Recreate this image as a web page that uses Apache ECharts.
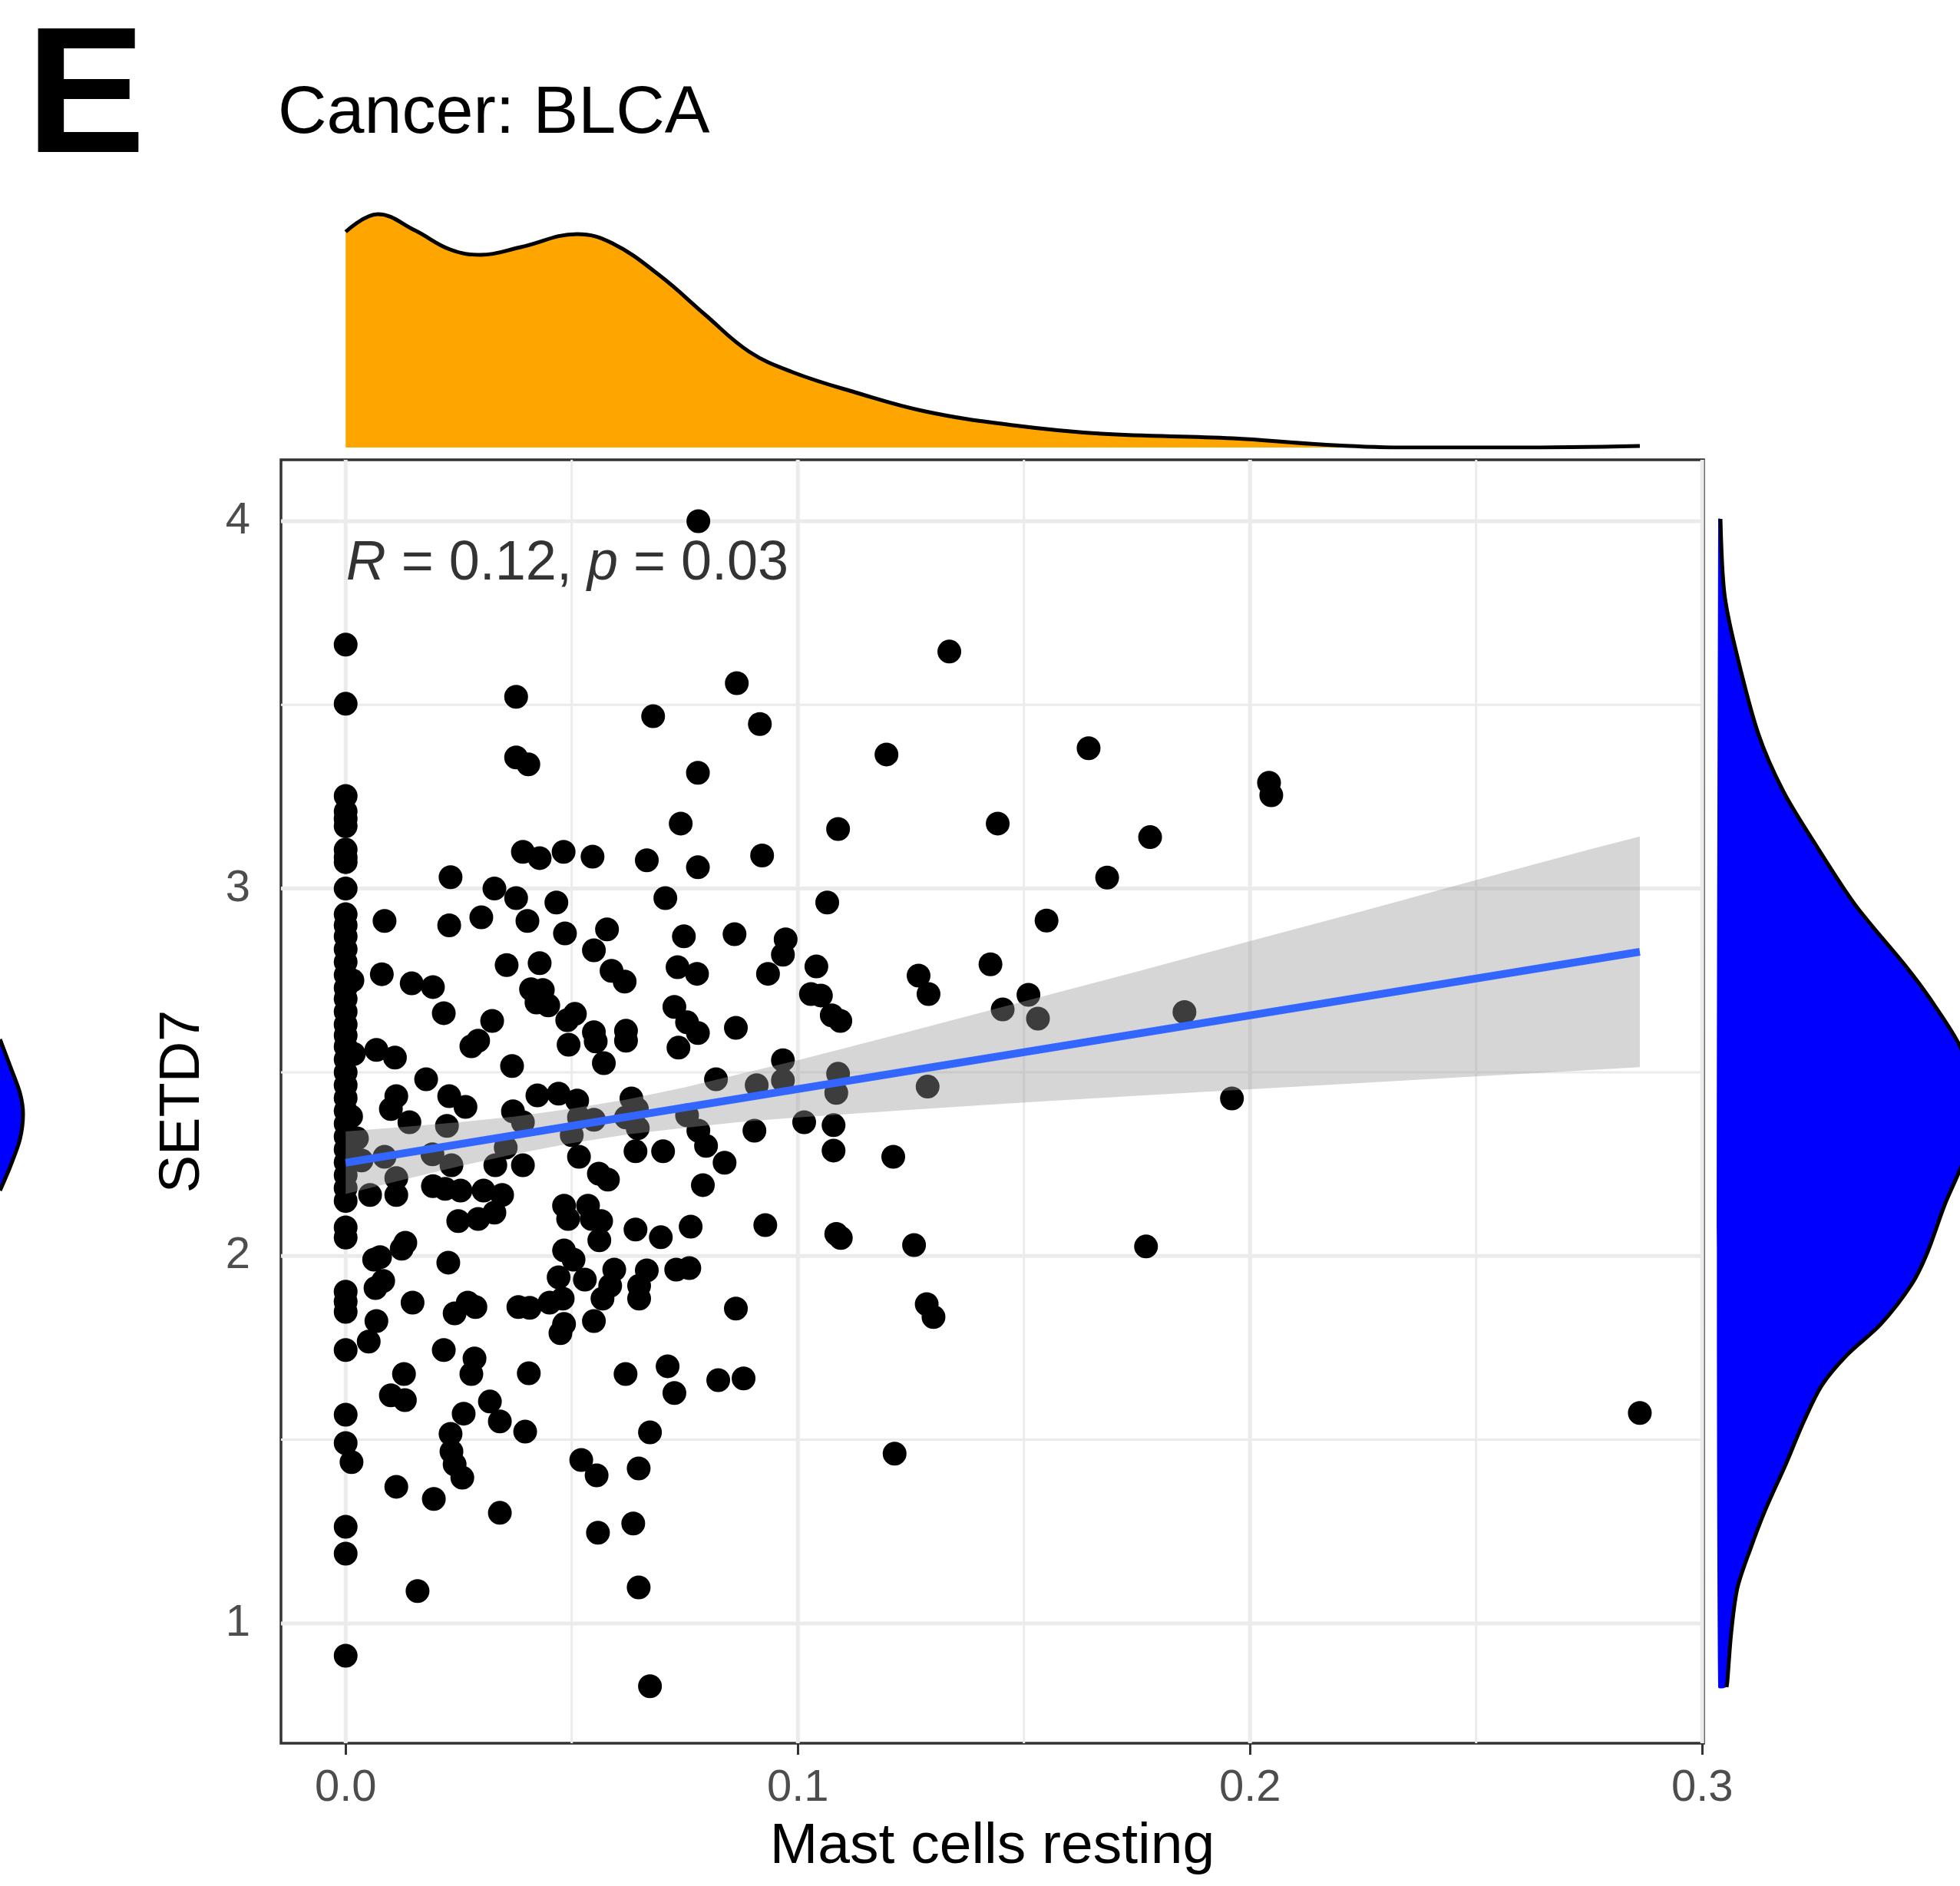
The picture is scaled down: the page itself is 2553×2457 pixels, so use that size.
<!DOCTYPE html>
<html>
<head>
<meta charset="utf-8">
<title>Cancer: BLCA</title>
<script src="https://cdn.jsdelivr.net/npm/echarts@6/dist/echarts.min.js"></script>
<style>
html, body { margin: 0; padding: 0; background: #fff; }
#chart { width: 2553px; height: 2457px; }
</style>
</head>
<body>
<div id="chart"></div>
<script>
// 字体
var FONT = "'Liberation Sans', Arial, sans-serif";

// 坐标刻度
var xTicks = [0, 0.1, 0.2, 0.3];
var xMinor = [0.05, 0.15, 0.25];
var yTicks = [1, 2, 3, 4];
var yMinor = [1.5, 2.5, 3.5];

// 散点: [Mast cells resting, SETD7]
var points = [
  // x = 0 column
  [0,3.664],[0,3.503],[0,3.252],[0,3.21],[0,3.19],[0,3.17],[0,3.106],[0,3.085],[0,3.072],[0,3.0],
  [0,2.93],[0,2.90],[0,2.87],[0,2.835],[0,2.80],[0,2.765],[0,2.73],[0,2.70],[0,2.665],[0,2.63],
  [0,2.60],[0,2.57],[0,2.535],[0,2.50],[0,2.465],[0,2.43],[0,2.395],[0,2.36],[0,2.325],[0,2.29],
  [0,2.255],[0,2.22],[0,2.185],[0,2.15],[0,2.078],[0,2.05],[0,1.903],[0,1.876],[0,1.848],[0,1.744],
  [0,1.568],[0,1.491],[0.0013,1.439],[0,1.263],[0,1.19],[0,0.912],[0.0015,2.75],[0.0018,2.55],[0.0012,2.38],
  [0.0025,2.32],[0.0035,2.26],
  // upper left
  [0.0377,3.522],[0.068,3.469],[0.0377,3.357],[0.0404,3.338],[0.0741,3.177],
  [0.0392,3.10],[0.0429,3.083],[0.0482,3.10],[0.0546,3.087],[0.0666,3.077],
  [0.0232,3.031],[0.0329,3.0],[0.0377,2.974],[0.0466,2.962],[0.0707,2.974],
  [0.0086,2.912],[0.0229,2.9],[0.03,2.922],[0.0402,2.912],[0.0485,2.878],[0.0578,2.889],[0.0549,2.832],[0.0748,2.87],
  [0.008,2.767],[0.0146,2.742],[0.0193,2.732],[0.0217,2.661],[0.0356,2.792],[0.0429,2.797],
  [0.041,2.726],[0.0436,2.724],[0.0422,2.69],[0.0448,2.682],
  [0.0588,2.776],[0.0617,2.747],[0.0734,2.786],[0.0777,2.768],
  [0.0324,2.64],[0.049,2.642],[0.0507,2.659],[0.0727,2.678],[0.0755,2.636],
  [0.0549,2.609],[0.0553,2.584],[0.062,2.613],[0.062,2.586],
  [0.0278,2.571],[0.0293,2.586],[0.0068,2.561],[0.0109,2.54],[0.0368,2.517],[0.0493,2.575],[0.0571,2.525],[0.0736,2.567],[0.0178,2.481],
  // lower left
  [0.0112,2.435],[0.01,2.40],[0.0141,2.364],[0.0229,2.435],[0.0265,2.406],[0.0224,2.354],[0.037,2.394],[0.0392,2.364],
  [0.0424,2.437],[0.0471,2.442],[0.0512,2.423],[0.0516,2.377],[0.05,2.329],[0.0549,2.371],
  [0.0632,2.429],[0.0644,2.40],[0.062,2.377],[0.0646,2.348],[0.0755,2.383],[0.078,2.341],
  [0.0086,2.27],[0.0192,2.277],[0.0234,2.247],[0.0331,2.247],[0.0392,2.247],[0.0354,2.295],[0.0516,2.27],[0.0641,2.285],[0.0702,2.285],
  [0.056,2.224],[0.058,2.208],[0.0112,2.212],[0.0054,2.166],[0.0112,2.166],[0.0193,2.19],[0.022,2.183],[0.0254,2.178],[0.0305,2.178],[0.0346,2.166],
  [0.0329,2.118],[0.0249,2.095],[0.0293,2.101],[0.0483,2.137],[0.0492,2.101],[0.0536,2.137],[0.0544,2.101],[0.0565,2.095],[0.0561,2.043],
  [0.0641,2.072],[0.0697,2.051],[0.0763,2.08],
  [0.0063,1.99],[0.0076,1.997],[0.0132,2.036],[0.0124,2.02],[0.0066,1.913],[0.0083,1.932],[0.0227,1.982],
  [0.0483,2.015],[0.0504,1.99],[0.0471,1.942],[0.0529,1.936],[0.0594,1.963],[0.0585,1.919],[0.0568,1.884],[0.0666,1.961],[0.0649,1.919],[0.0649,1.884],[0.0731,1.963],[0.076,1.967],
  [0.0148,1.873],[0.0241,1.844],[0.027,1.873],[0.0287,1.861],[0.0382,1.861],[0.0407,1.859],[0.0451,1.873],[0.048,1.884],[0.0483,1.815],[0.0475,1.79],[0.0549,1.823],
  [0.0068,1.823],[0.0051,1.767],[0.0217,1.744],[0.0285,1.721],[0.0278,1.679],[0.0129,1.679],[0.0405,1.681],[0.0619,1.679],[0.0712,1.70],[0.0727,1.627],
  [0.01,1.621],[0.0131,1.608],[0.0261,1.571],[0.0319,1.604],[0.0341,1.55],[0.0397,1.522],[0.0232,1.516],[0.0234,1.468],[0.0241,1.433],[0.0258,1.397],[0.0673,1.52],
  [0.0521,1.445],[0.0555,1.403],[0.0648,1.422],[0.0112,1.372],[0.0195,1.339],[0.0341,1.301],[0.0558,1.247],[0.0636,1.272],[0.0159,1.088],[0.0648,1.098],[0.0673,0.829],
  // upper middle
  [0.078,4.0],[0.0865,3.559],[0.0916,3.448],[0.1335,3.645],[0.1196,3.365],[0.1643,3.382],[0.1089,3.162],[0.1442,3.177],[0.1779,3.14],[0.1684,3.03],
  [0.0921,3.09],[0.0779,3.058],[0.0779,3.315],
  [0.1065,2.962],[0.155,2.913],[0.086,2.876],[0.0973,2.862],[0.0967,2.82],
  [0.0934,2.768],[0.1041,2.788],[0.1426,2.794],[0.1267,2.763],[0.1289,2.713],
  [0.1029,2.713],[0.1051,2.709],[0.1075,2.655],[0.1094,2.64],[0.151,2.711],[0.1453,2.671],[0.1531,2.646],[0.1855,2.664],
  [0.0863,2.621],[0.0779,2.607],[0.0967,2.533],[0.0967,2.478],[0.1089,2.496],[0.0819,2.481],[0.0909,2.465],[0.1287,2.461],
  // lower middle
  [0.1085,2.444],[0.0797,2.30],[0.0904,2.341],[0.1014,2.364],[0.1079,2.356],[0.1079,2.287],[0.0838,2.254],[0.1211,2.27],[0.079,2.193],
  [0.0928,2.084],[0.1085,2.06],[0.1095,2.049],[0.1257,2.03],[0.177,2.026],[0.0863,1.857],[0.1285,1.869],[0.13,1.834],
  [0.0824,1.662],[0.088,1.667],[0.1214,1.462],
  // right
  [0.2042,3.288],[0.2047,3.254],[0.196,2.429],[0.2862,1.573]
];

// 回归线与置信带
var fitX = [0, 0.2862];
var fitY = [2.254, 2.828];
var bandX = [0, 0.0125, 0.025, 0.0375, 0.05, 0.0625, 0.075, 0.0875, 0.1, 0.125, 0.15, 0.175, 0.2, 0.225, 0.25, 0.275, 0.2862];
var bandLow = [2.169, 2.207, 2.244, 2.278, 2.307, 2.331, 2.349, 2.365, 2.377, 2.398, 2.418, 2.436, 2.454, 2.471, 2.489, 2.506, 2.514];
var bandHigh = [2.339, 2.351, 2.364, 2.380, 2.401, 2.427, 2.459, 2.496, 2.533, 2.612, 2.693, 2.774, 2.857, 2.939, 3.023, 3.106, 3.142];

// 上方密度 (x)
var topX = [0, 0.0071, 0.0153, 0.0231, 0.0299, 0.0387, 0.0512, 0.059, 0.0697, 0.0795, 0.0892, 0.0989, 0.1126, 0.1282, 0.1476, 0.1671, 0.1962, 0.2157, 0.2352, 0.2584, 0.2862];
var topH = [281, 304, 283, 258, 251, 261, 278, 266, 223, 173, 125, 98, 72, 47, 29, 18, 12, 4, 0, 0, 2];

// 右侧密度 (y)
var rightY = [4.006, 3.805, 3.657, 3.423, 3.264, 3.116, 2.957, 2.787, 2.703, 2.571, 2.40, 2.235, 2.139, 2.007, 1.923, 1.815, 1.731, 1.648, 1.552, 1.433, 1.312, 1.203, 1.096, 0.975, 0.843, 0.827];
var rightH = [3, 8, 22, 52, 85, 128, 178, 245, 275, 315, 345, 315, 295, 272, 252, 212, 168, 135, 112, 88, 62, 42, 25, 17, 12, 11];

// 左边缘残留的密度片段
var fragY = [104, 141, 174, 201, 234, 268, 301];
var fragH = [0, 14, 26, 30, 26, 14, 0];

var myChart = echarts.init(document.getElementById('chart'));

function lineRenderer(vertical, width) {
  return function (params, api) {
    var cs = params.coordSys;
    var v = api.value(0);
    var p = vertical ? api.coord([v, 2]) : api.coord([0.1, v]);
    var shape = vertical
      ? {x1: p[0], y1: cs.y, x2: p[0], y2: cs.y + cs.height}
      : {x1: cs.x, y1: p[1], x2: cs.x + cs.width, y2: p[1]};
    return {type: 'line', shape: shape, style: {stroke: '#EBEBEB', lineWidth: width}};
  };
}

function densityRenderer(curve, closeA, closeB, fill) {
  return function (params, api) {
    if (params.dataIndex !== 0) return null;
    var c = curve.map(function (p) { return api.coord(p); });
    var poly = [api.coord(closeA)].concat(c, [api.coord(closeB)]);
    return {
      type: 'group',
      children: [
        {type: 'polygon', shape: {points: poly, smooth: 0.3}, style: {fill: fill}},
        {type: 'polyline', shape: {points: c, smooth: 0.3}, style: {stroke: '#000', lineWidth: 5, fill: null}}
      ]
    };
  };
}

var rightCurve = rightH.map(function (h, i) { return [h, rightY[i]]; });
var fragCurve = fragH.map(function (h, i) { return [h, fragY[i]]; });
var bandData = bandX.map(function (x, i) { return [x, bandLow[i], bandHigh[i]]; });

var option = {
  animation: false,
  backgroundColor: '#fff',
  title: [
    {text: 'E', left: 34, top: 17, padding: 0,
     textStyle: {fontSize: 233, fontWeight: 'bold', color: '#000', fontFamily: FONT}},
    {text: 'Cancer: BLCA', left: 362, top: 105, padding: 0,
     textStyle: {fontSize: 88, fontWeight: 'normal', color: '#000', fontFamily: FONT}}
  ],
  grid: [
    {left: 366, top: 599, width: 1853, height: 1672, show: true, borderColor: '#333333', borderWidth: 3.5, backgroundColor: 'transparent'},
    {left: 366, top: 250, width: 1853, height: 333},
    {left: 2238, top: 599, width: 315, height: 1672},
    {left: 0, top: 1250, width: 120, height: 350}
  ],
  xAxis: [
    {gridIndex: 0, type: 'value', min: -0.0143, max: 0.3003,
     axisLine: {show: false},
     axisTick: {show: true, length: 15, lineStyle: {color: '#333333', width: 3}, customValues: xTicks},
     axisLabel: {customValues: xTicks, formatter: function (v) { return v.toFixed(1); },
                 color: '#4D4D4D', fontSize: 58, margin: 30, fontFamily: FONT},
     splitLine: {show: false},
     name: 'Mast cells resting', nameLocation: 'middle', nameGap: 98,
     nameTextStyle: {fontSize: 75, color: '#000', fontFamily: FONT}},
    {gridIndex: 1, type: 'value', min: -0.0143, max: 0.3003, show: false},
    {gridIndex: 2, type: 'value', min: 0, max: 315, show: false},
    {gridIndex: 3, type: 'value', min: 0, max: 120, show: false}
  ],
  yAxis: [
    {gridIndex: 0, type: 'value', min: 0.674, max: 4.167,
     axisLine: {show: false},
     axisTick: {show: true, length: 15, lineStyle: {color: '#333333', width: 3}, customValues: yTicks},
     axisLabel: {customValues: yTicks, formatter: function (v) { return String(v); },
                 color: '#4D4D4D', fontSize: 58, margin: 40, fontFamily: FONT},
     splitLine: {show: false},
     name: 'SETD7', nameLocation: 'middle', nameGap: 90, nameRotate: 90,
     nameTextStyle: {fontSize: 74, color: '#000', fontFamily: FONT}},
    {gridIndex: 1, type: 'value', min: 0, max: 333, show: false},
    {gridIndex: 2, type: 'value', min: 0.674, max: 4.167, show: false},
    {gridIndex: 3, type: 'value', min: 0, max: 350, inverse: true, show: false}
  ],
  series: [
    // 网格线
    {type: 'custom', xAxisIndex: 0, yAxisIndex: 0, z: 0, silent: true,
     data: xMinor.map(function (v) { return [v]; }), renderItem: lineRenderer(true, 3)},
    {type: 'custom', xAxisIndex: 0, yAxisIndex: 0, z: 0, silent: true,
     data: yMinor.map(function (v) { return [v]; }), renderItem: lineRenderer(false, 3)},
    {type: 'custom', xAxisIndex: 0, yAxisIndex: 0, z: 1, silent: true,
     data: xTicks.map(function (v) { return [v]; }), renderItem: lineRenderer(true, 5)},
    {type: 'custom', xAxisIndex: 0, yAxisIndex: 0, z: 1, silent: true,
     data: yTicks.map(function (v) { return [v]; }), renderItem: lineRenderer(false, 5)},
    // 散点
    {name: 'samples', type: 'scatter', xAxisIndex: 0, yAxisIndex: 0, z: 2,
     symbol: 'circle', symbolSize: 31, itemStyle: {color: '#000', opacity: 1},
     data: points},
    // 置信带
    {type: 'custom', xAxisIndex: 0, yAxisIndex: 0, z: 3, silent: true, data: bandData,
     renderItem: function (params, api) {
       if (params.dataIndex !== 0) return null;
       var up = bandData.map(function (d) { return api.coord([d[0], d[2]]); });
       var lo = bandData.slice().reverse().map(function (d) { return api.coord([d[0], d[1]]); });
       return {type: 'polygon', shape: {points: up.concat(lo)}, style: {fill: 'rgba(153,153,153,0.4)'}};
     }},
    // 回归线
    {type: 'line', xAxisIndex: 0, yAxisIndex: 0, z: 4, showSymbol: false, silent: true,
     data: fitX.map(function (x, i) { return [x, fitY[i]]; }),
     lineStyle: {color: '#3366FF', width: 10}},
    // R, p 标注
    {type: 'scatter', xAxisIndex: 0, yAxisIndex: 0, z: 5, silent: true,
     symbolSize: 1, itemStyle: {color: 'rgba(0,0,0,0)'},
     data: [[0, 3.883]],
     label: {show: true, position: 'right', distance: 0,
             formatter: '{i|R} = 0.12, {i|p} = 0.03',
             color: '#000', fontSize: 72, fontFamily: FONT,
             rich: {i: {fontStyle: 'italic', fontSize: 72, color: '#000', fontFamily: FONT}}}},
    // 上方密度
    {type: 'line', xAxisIndex: 1, yAxisIndex: 1, smooth: 0.4, showSymbol: false, silent: true,
     data: topX.map(function (x, i) { return [x, topH[i]]; }),
     lineStyle: {color: '#000', width: 5},
     areaStyle: {color: '#FFA500', opacity: 1}},
    // 右侧密度
    {type: 'custom', xAxisIndex: 2, yAxisIndex: 2, silent: true, data: rightCurve,
     renderItem: densityRenderer(rightCurve, [0, rightY[0]], [0, rightY[rightY.length - 1]], '#0000FF')},
    // 左侧片段
    {type: 'custom', xAxisIndex: 3, yAxisIndex: 3, silent: true, data: fragCurve,
     renderItem: densityRenderer(fragCurve, [0, fragY[0]], [0, fragY[fragY.length - 1]], '#0000FF')}
  ]
};

myChart.setOption(option);
</script>
</body>
</html>
